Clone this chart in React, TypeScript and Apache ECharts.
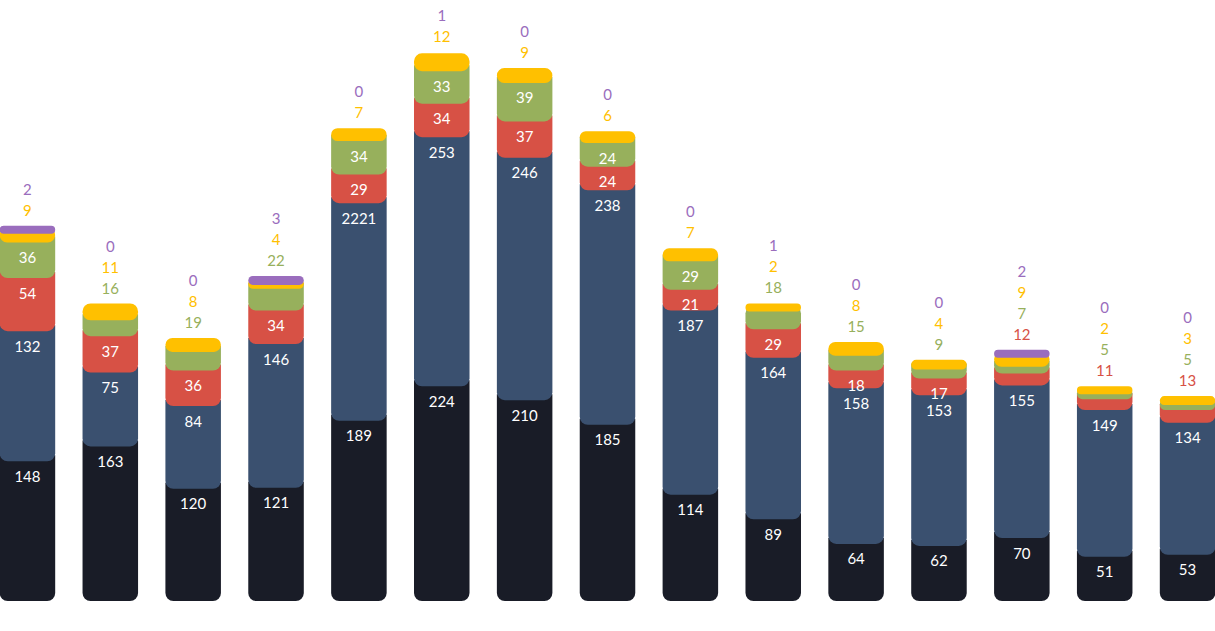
import React, { useEffect, useRef } from "react";
import * as echarts from "echarts";

const categories = ["B1", "B2", "B3", "B4", "B5", "B6", "B7", "B8", "B9", "B10", "B11", "B12", "B13", "B14", "B15"];
const dark = [148, 163, 120, 121, 189, 224, 210, 185, 114, 89, 64, 62, 70, 51, 53];
const blue = [132, 75, 84, 146, 221, 253, 246, 238, 187, 164, 158, 153, 155, 149, 134];
const red = [54, 37, 36, 34, 29, 34, 37, 24, 21, 29, 18, 17, 12, 11, 13];
const green = [36, 16, 19, 22, 34, 33, 39, 24, 29, 18, 15, 9, 7, 5, 5];
const yellow = [9, 11, 8, 4, 7, 12, 9, 6, 7, 2, 8, 4, 9, 2, 3];
const purple = [2, 0, 0, 3, 0, 1, 0, 0, 0, 1, 0, 0, 2, 0, 0];
// label texts as printed in the reference (bar 5's blue label reads "2221")
const blueText = ["132", "75", "84", "146", "2221", "253", "246", "238", "187", "164", "158", "153", "155", "149", "134"];

const seriesNames = ["Dark", "Blue", "Red", "Green", "Yellow", "Purple"];
const colors = ["#191c27", "#3a506f", "#d75145", "#97b05c", "#ffc000", "#9a6dbd"];

export default function App() {
  const ref = useRef<HTMLDivElement>(null);
  useEffect(() => {
    document.body.style.margin = "0";
    document.body.style.overflow = "hidden";
    const chart = echarts.init(ref.current!, null, { renderer: "svg" });
    const values = [dark, blue, red, green, yellow, purple];
    const texts = [dark.map(String), blueText, red.map(String), green.map(String), yellow.map(String), purple.map(String)];
    const insideMin = [0, 0, 15, 23, Infinity, Infinity];
    const totals = categories.map((_, i) => values.reduce((s, arr) => s + arr[i], 0));
    const EXT = 6;
    const R = 8;
    const FONT = 15;
    const FAMILY = "Lato, 'Noto Sans', sans-serif";

    chart.setOption({
      animation: false,
      grid: { left: 0, right: 0, top: 10, bottom: 30 },
      xAxis: { type: "category", data: categories, show: false },
      yAxis: { type: "value", min: 0, max: 600, show: false },
      series: [
        {
          type: "custom",
          name: seriesNames.join(" / "),
          clip: false,
          data: categories.map((_, i) => [i, totals[i]]),
          encode: { x: 0, y: 1 },
          renderItem: (params: any, api: any) => {
            const i = api.value(0);
            const band = api.size([1, 0])[0];
            const w = band * 0.67;
            const cx = api.coord([i, 0])[0];
            const x = cx - w / 2;
            const rects: any[] = [];
            const labels: any[] = [];
            const outside: number[] = [];
            let cum = 0;
            // index of the topmost drawn segment
            let topK = 0;
            for (let k = 0; k < values.length; k++) if (values[k][i] > 1) topK = k;
            for (let k = 0; k < values.length; k++) {
              const v = values[k][i];
              const y0 = api.coord([i, cum])[1];
              cum += v;
              const y1 = api.coord([i, cum])[1];
              const bottom = k === 0 ? y0 : y0 + EXT;
              const nextV = k + 1 < values.length ? values[k + 1][i] : 0;
              const nextDrawn = nextV > 1;
              if (v > 1) {
                const roundTop = k === topK || nextV < 4;
                rects.push({
                  type: "rect",
                  shape: { x, y: y1, width: w, height: bottom - y1, r: roundTop ? [R, R, R, R] : [0, 0, R, R] },
                  style: { fill: colors[k] },
                });
              }
              if (v >= insideMin[k]) {
                const visTop = y1 + (nextDrawn ? EXT : 0);
                labels.push({
                  type: "text",
                  x: cx,
                  y: visTop + 14.5,
                  style: {
                    text: texts[k][i],
                    fill: "#ffffff",
                    fontSize: FONT,
                    fontFamily: FAMILY,
                    align: "center",
                    verticalAlign: "middle",
                  },
                });
              } else {
                outside.push(k);
              }
            }
            const top = api.coord([i, cum])[1];
            outside.forEach((k, j) => {
              labels.push({
                type: "text",
                x: cx,
                y: top - 16 - 21 * j,
                style: {
                  text: texts[k][i],
                  fill: colors[k],
                  fontSize: FONT,
                  fontFamily: FAMILY,
                  align: "center",
                  verticalAlign: "middle",
                },
              });
            });
            return { type: "group", children: rects.concat(labels) };
          },
        },
      ],
    });
    return () => chart.dispose();
  }, []);
  return (
    <div style={{ position: "absolute", left: 0, top: 0, width: 1215, height: 631, overflow: "hidden", background: "#ffffff" }}>
      <div ref={ref} style={{ position: "absolute", left: -14, top: 0, width: 1243, height: 631 }} />
    </div>
  );
}
